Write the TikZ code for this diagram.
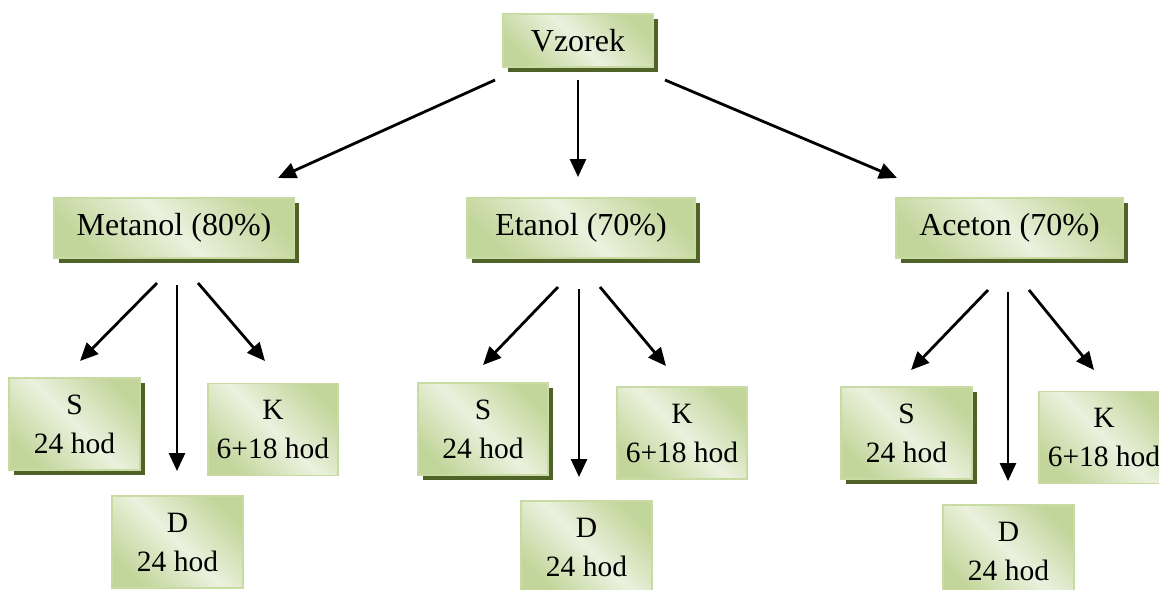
\documentclass[tikz,border=0pt]{standalone}
\usepackage{fontspec}
\setmainfont{Liberation Serif}
\usetikzlibrary{arrows.meta,shadows}
\definecolor{boxdark}{HTML}{C2D69B}
\definecolor{boxlight}{HTML}{EBF1DE}
\definecolor{boxline}{HTML}{C7DBA3}
\definecolor{shadowcol}{HTML}{4F6228}
\tikzset{
  gbox/.style={draw=boxline, line width=1.5pt, inner sep=0pt,
    top color=boxdark, bottom color=boxdark, middle color=boxlight,
    shading angle=-45, align=center},
  shad/.style={gbox, drop shadow={shadow xshift=5pt, shadow yshift=-5pt, fill=shadowcol, opacity=1}},
  bigbox/.style={font=\fontsize{32}{36}\selectfont, minimum height=55pt},
  smallbox/.style={font=\fontsize{29.5}{39}\selectfont, minimum width=131pt, minimum height=92pt},
  arr/.style={line width=2.8pt, -{Triangle[length=18pt,width=16pt]}}
}
\begin{document}
\begin{tikzpicture}[x=1pt,y=-1pt]
\useasboundingbox (0,0) rectangle (1159,589);
% top
\node[shad,bigbox,minimum width=150pt,minimum height=53pt] (vz) at (578,40.5) {Vzorek};
\node[shad,bigbox,minimum width=240pt,minimum height=60pt] (me) at (174,228) {Metanol (80\%)};
\node[shad,bigbox,minimum width=228pt,minimum height=60pt] (et) at (581,228) {Etanol (70\%)};
\node[shad,bigbox,minimum width=227pt,minimum height=60pt] (ac) at (1009.5,228) {Aceton (70\%)};
% Metanol children
\node[shad,smallbox] (meS) at (74.5,424) {S\\24 hod};
\node[gbox,smallbox,minimum width=130pt] (meK) at (273,429.5) {K\\6+18 hod};
\node[gbox,smallbox] (meD) at (177.5,542) {D\\24 hod};
% Etanol children
\node[shad,smallbox,minimum width=130pt] (etS) at (483,429) {S\\24 hod};
\node[gbox,smallbox,minimum width=130pt] (etK) at (682,433) {K\\6+18 hod};
\node[gbox,smallbox] (etD) at (586.5,547) {D\\24 hod};
% Aceton children
\node[shad,smallbox] (acS) at (906.5,433) {S\\24 hod};
\node[gbox,smallbox,minimum width=130pt] (acK) at (1104,437.5) {K\\6+18 hod};
\node[gbox,smallbox] (acD) at (1008.5,551) {D\\24 hod};
% arrow coordinates
\coordinate (t1s) at (495,80);  \coordinate (t1e) at (278,178);
\coordinate (t2s) at (578,80);  \coordinate (t2e) at (578,177);
\coordinate (t3s) at (665,80);  \coordinate (t3e) at (897,178);
\coordinate (m1s) at (157,283); \coordinate (m1e) at (80,361);
\coordinate (m2s) at (177,285); \coordinate (m2e) at (177,471);
\coordinate (m3s) at (198,283); \coordinate (m3e) at (265,361);
\coordinate (e1s) at (558,287); \coordinate (e1e) at (483,365);
\coordinate (e2s) at (579,289); \coordinate (e2e) at (579,477);
\coordinate (e3s) at (600,287); \coordinate (e3e) at (666,366);
\coordinate (a1s) at (988,290); \coordinate (a1e) at (911,370);
\coordinate (a2s) at (1008,292);\coordinate (a2e) at (1008,481);
\coordinate (a3s) at (1029,290);\coordinate (a3e) at (1094,370);
\foreach \p in {t1,t2,t3,m1,m2,m3,e1,e2,e3,a1,a2,a3}
  \draw[arr] (\p s) -- (\p e);
\end{tikzpicture}
\end{document}
